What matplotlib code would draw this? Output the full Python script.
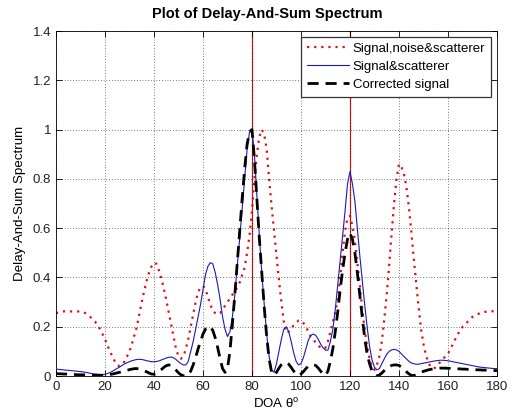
import numpy as np
import matplotlib
matplotlib.use("Agg")
import matplotlib.pyplot as plt

plt.rcParams['font.family'] = ['Liberation Sans', 'DejaVu Sans']
plt.rcParams['mathtext.fontset'] = 'custom'
plt.rcParams['mathtext.rm'] = 'Liberation Sans'

doa = list(range(0, 181))

signal_noise_scatterer = [
    0.255, 0.258, 0.26, 0.262, 0.263, 0.263, 0.262, 0.262, 0.262, 0.262,
    0.262, 0.26, 0.255, 0.248, 0.24, 0.228, 0.22, 0.205, 0.19, 0.17,
    0.15, 0.125, 0.1, 0.08, 0.06, 0.045, 0.04, 0.045, 0.06, 0.08,
    0.1, 0.13, 0.165, 0.2, 0.25, 0.3, 0.345, 0.385, 0.42, 0.445,
    0.46, 0.455, 0.43, 0.395, 0.355, 0.31, 0.26, 0.21, 0.16, 0.11,
    0.08, 0.07, 0.08, 0.11, 0.15, 0.2, 0.25, 0.3, 0.34, 0.36,
    0.365, 0.355, 0.32, 0.29, 0.265, 0.255, 0.25, 0.255, 0.27, 0.285,
    0.3, 0.315, 0.33, 0.345, 0.36, 0.38, 0.41, 0.44, 0.5, 0.57,
    0.67, 0.8, 0.9, 0.97, 1.0, 0.98, 0.92, 0.8, 0.69, 0.59,
    0.49, 0.39, 0.3, 0.22, 0.175, 0.18, 0.195, 0.205, 0.215, 0.225,
    0.225, 0.215, 0.2, 0.18, 0.16, 0.15, 0.135, 0.125, 0.115, 0.11,
    0.115, 0.14, 0.18, 0.22, 0.26, 0.31, 0.4, 0.5, 0.59, 0.64,
    0.65, 0.61, 0.55, 0.46, 0.37, 0.27, 0.19, 0.12, 0.07, 0.035,
    0.025, 0.045, 0.08, 0.14, 0.23, 0.33, 0.45, 0.58, 0.7, 0.8,
    0.86, 0.85, 0.82, 0.77, 0.69, 0.59, 0.48, 0.38, 0.28, 0.19,
    0.13, 0.085, 0.055, 0.035, 0.03, 0.035, 0.045, 0.06, 0.07, 0.08,
    0.09, 0.11, 0.13, 0.15, 0.17, 0.185, 0.2, 0.21, 0.22, 0.23,
    0.24, 0.245, 0.25, 0.255, 0.258, 0.26, 0.262, 0.263, 0.263, 0.262,
    0.26,
]

signal_scatterer = [
    0.028, 0.027, 0.026, 0.025, 0.024, 0.023, 0.022, 0.021, 0.02, 0.019,
    0.018, 0.017, 0.015, 0.013, 0.011, 0.009, 0.008, 0.007, 0.006, 0.006,
    0.007, 0.01, 0.014, 0.019, 0.025, 0.031, 0.037, 0.043, 0.049, 0.054,
    0.058, 0.062, 0.065, 0.067, 0.068, 0.067, 0.065, 0.062, 0.06, 0.058,
    0.058, 0.059, 0.061, 0.065, 0.069, 0.073, 0.076, 0.077, 0.074, 0.067,
    0.058, 0.05, 0.045, 0.045, 0.06, 0.1, 0.14, 0.19, 0.24, 0.29,
    0.35, 0.41, 0.445, 0.46, 0.455, 0.42, 0.37, 0.31, 0.24, 0.19,
    0.16, 0.18, 0.24, 0.33, 0.45, 0.56, 0.68, 0.8, 0.92, 0.99,
    1.0, 0.9, 0.73, 0.57, 0.42, 0.29, 0.17, 0.08, 0.025, 0.015,
    0.05, 0.1, 0.15, 0.19, 0.2, 0.18, 0.14, 0.095, 0.06, 0.045,
    0.05, 0.075, 0.11, 0.145, 0.165, 0.17, 0.165, 0.15, 0.13, 0.115,
    0.105, 0.105, 0.14, 0.19, 0.27, 0.37, 0.47, 0.57, 0.67, 0.78,
    0.83, 0.78, 0.71, 0.6, 0.49, 0.39, 0.29, 0.2, 0.12, 0.065,
    0.035, 0.025, 0.03, 0.05, 0.07, 0.088, 0.1, 0.106, 0.108, 0.106,
    0.1, 0.09, 0.08, 0.07, 0.06, 0.053, 0.05, 0.048, 0.048, 0.05,
    0.052, 0.054, 0.056, 0.058, 0.06, 0.062, 0.063, 0.064, 0.064, 0.063,
    0.062, 0.06, 0.058, 0.056, 0.054, 0.052, 0.05, 0.048, 0.046, 0.044,
    0.042, 0.04, 0.038, 0.036, 0.035, 0.034, 0.033, 0.032, 0.031, 0.03,
    0.03,
]

corrected_signal = [
    0.01, 0.009, 0.009, 0.008, 0.008, 0.007, 0.007, 0.006, 0.006, 0.005,
    0.005, 0.005, 0.004, 0.004, 0.004, 0.003, 0.003, 0.003, 0.003, 0.003,
    0.003, 0.004, 0.006, 0.008, 0.01, 0.013, 0.015, 0.018, 0.02, 0.023,
    0.026, 0.028, 0.03, 0.03, 0.029, 0.026, 0.022, 0.017, 0.012, 0.008,
    0.007, 0.01, 0.017, 0.026, 0.035, 0.042, 0.045, 0.043, 0.035, 0.024,
    0.013, 0.005, 0.001, 0.0, 0.005, 0.02, 0.045, 0.075, 0.11, 0.14,
    0.17, 0.19, 0.2, 0.2, 0.185, 0.155, 0.115, 0.07, 0.03, 0.015,
    0.03, 0.1, 0.21, 0.33, 0.46, 0.59, 0.72, 0.84, 0.94, 0.99,
    1.0, 0.88, 0.72, 0.56, 0.42, 0.28, 0.16, 0.07, 0.015, 0.003,
    0.015, 0.032, 0.046, 0.054, 0.055, 0.048, 0.035, 0.02, 0.007, 0.002,
    0.008, 0.018, 0.03, 0.04, 0.045, 0.046, 0.043, 0.033, 0.02, 0.008,
    0.002, 0.02, 0.06, 0.11, 0.18, 0.26, 0.35, 0.43, 0.5, 0.555,
    0.58, 0.555, 0.5, 0.42, 0.33, 0.24, 0.155, 0.09, 0.05, 0.02,
    0.006, 0.0, 0.004, 0.012, 0.022, 0.031, 0.038, 0.043, 0.045, 0.045,
    0.043, 0.037, 0.028, 0.018, 0.009, 0.003, 0.002, 0.005, 0.01, 0.015,
    0.019, 0.022, 0.025, 0.027, 0.029, 0.03, 0.031, 0.032, 0.032, 0.032,
    0.031, 0.031, 0.03, 0.03, 0.029, 0.029, 0.028, 0.028, 0.027, 0.027,
    0.026, 0.026, 0.025, 0.025, 0.024, 0.024, 0.023, 0.023, 0.022, 0.022,
    0.022,
]

true_doas = [80, 120]
legend_labels = ["Signal,noise&scatterer", "Signal&scatterer", "Corrected signal"]
x_ticks = list(range(0, 181, 20))
y_ticks = [0, 0.2, 0.4, 0.6, 0.8, 1.0, 1.2, 1.4]
y_tick_labels = ['0', '0.2', '0.4', '0.6', '0.8', '1', '1.2', '1.4']

fig = plt.figure(figsize=(5.15, 4.19), dpi=100)
ax = fig.add_axes([0.1087, 0.1026, 0.8563, 0.8234])

for d in true_doas:
    ax.axvline(d, color='#d02020', lw=0.9, zorder=1)

ax.plot(doa, signal_noise_scatterer, color='#e01010', ls=(0, (1, 2.2)), lw=1.6,
        label=legend_labels[0], zorder=2)
ax.plot(doa, signal_scatterer, color='#1a1ab4', ls='-', lw=0.8,
        label=legend_labels[1], zorder=3)
ax.plot(doa, corrected_signal, color='black', ls=(0, (4, 2.5)), lw=2.0,
        label=legend_labels[2], zorder=4)

ax.set_xlim(0, 180)
ax.set_ylim(0, 1.4)
ax.set_xticks(x_ticks)
ax.set_yticks(y_ticks)
ax.set_yticklabels(y_tick_labels)
ax.tick_params(direction='in', top=True, right=True, labelsize=9.5, length=4,
               width=0.6, colors='black', labelcolor='#222222')
ax.grid(True, color='black', ls=(0, (1, 3)), lw=0.5)
for s in ax.spines.values():
    s.set_linewidth(0.6)

ax.set_title('Plot of Delay-And-Sum Spectrum', fontsize=10.5, fontweight='bold',
             pad=9.5, x=0.478)
ax.set_xlabel(r'DOA θ$^{\mathrm{o}}$', fontsize=9.5, labelpad=3)
ax.set_ylabel('Delay-And-Sum Spectrum', fontsize=9.6, labelpad=5)

leg = ax.legend(loc='upper right', fontsize=9.5, frameon=True, fancybox=False,
                edgecolor='#333333', framealpha=1, handlelength=3.15,
                borderaxespad=0.45, labelspacing=0.42, handletextpad=0.28,
                borderpad=0.45)
leg.get_frame().set_linewidth(0.9)

fig.savefig('out.png', dpi=100)
